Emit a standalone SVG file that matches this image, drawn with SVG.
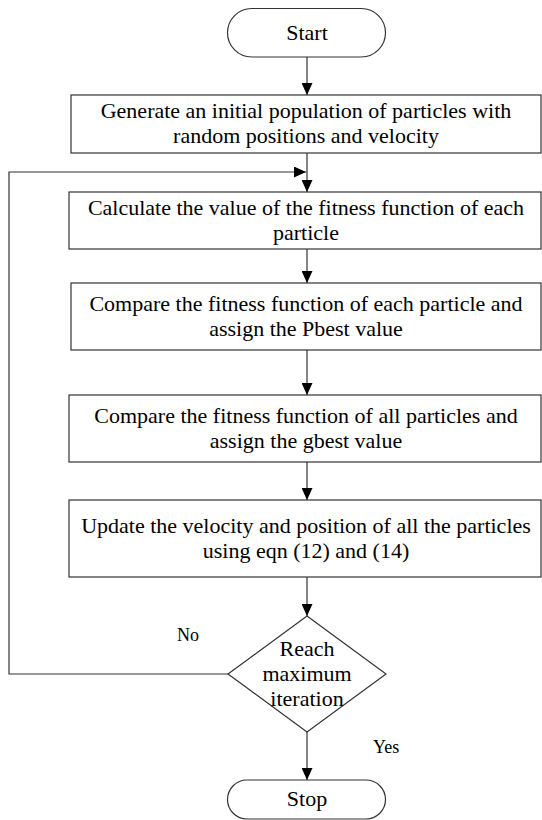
<svg xmlns="http://www.w3.org/2000/svg" width="542" height="820" viewBox="0 0 542 820">
<style>
.box{fill:#fff;stroke:#333;stroke-width:1.2}
.ln{fill:none;stroke:#333;stroke-width:1.2}
.t{font-size:22px;fill:#000;text-anchor:middle}
.lbl{font-size:18px;fill:#000}
</style>
<defs>
<marker id="ah" markerWidth="12" markerHeight="11" refX="12" refY="5.5" orient="auto" markerUnits="userSpaceOnUse">
<path d="M0,0 L12,5.5 L0,11 Z" fill="#000"/>
</marker>
</defs>
<rect width="542" height="820" fill="#fff"/>
<g font-family="Liberation Serif, Times New Roman, DejaVu Serif, serif">
<g id="connectors">
<line class="ln" x1="307" y1="57" x2="307" y2="95" marker-end="url(#ah)"/>
<line class="ln" x1="307" y1="153" x2="307" y2="192" marker-end="url(#ah)"/>
<polyline class="ln" points="228,674 9,674 9,172 306,172" marker-end="url(#ah)"/>
<line class="ln" x1="307" y1="249" x2="307" y2="283" marker-end="url(#ah)"/>
<line class="ln" x1="307" y1="350" x2="307" y2="395" marker-end="url(#ah)"/>
<line class="ln" x1="307" y1="462" x2="307" y2="500" marker-end="url(#ah)"/>
<line class="ln" x1="307" y1="577" x2="307" y2="616" marker-end="url(#ah)"/>
<line class="ln" x1="307" y1="732" x2="307" y2="780" marker-end="url(#ah)"/>
<text class="lbl" x="177" y="641">No</text>
<text class="lbl" x="373" y="753">Yes</text>
</g>
<g id="start">
<rect class="box" x="227.5" y="8.5" width="158" height="48.5" rx="24.25"/>
<text class="t" x="307" y="39.5">Start</text>
</g>
<g id="init">
<rect class="box" x="71" y="95" width="470" height="58"/>
<text class="t" x="306" y="118">Generate an initial population of particles with</text>
<text class="t" x="306" y="143">random positions and velocity</text>
</g>
<g id="fitness">
<rect class="box" x="69" y="192" width="472" height="57"/>
<text class="t" x="306" y="214.5">Calculate the value of the fitness function of each</text>
<text class="t" x="306" y="239.5">particle</text>
</g>
<g id="pbest">
<rect class="box" x="71" y="283" width="470" height="67"/>
<text class="t" x="306" y="310.5">Compare the fitness function of each particle and</text>
<text class="t" x="306" y="335.5">assign the Pbest value</text>
</g>
<g id="gbest">
<rect class="box" x="69" y="395" width="472" height="67"/>
<text class="t" x="306" y="422.5">Compare the fitness function of all particles and</text>
<text class="t" x="306" y="447.5">assign the gbest value</text>
</g>
<g id="update">
<rect class="box" x="69" y="500" width="472" height="77"/>
<text class="t" x="306" y="533">Update the velocity and position of all the particles</text>
<text class="t" x="306" y="558">using eqn (12) and (14)</text>
</g>
<g id="decision">
<polygon class="box" points="307,616 386,674 307,732 228,674"/>
<text class="t" x="307" y="656">Reach</text>
<text class="t" x="307" y="681">maximum</text>
<text class="t" x="307" y="706">iteration</text>
</g>
<g id="stop">
<rect class="box" x="227.5" y="780" width="158" height="39" rx="19.5"/>
<text class="t" x="307" y="806">Stop</text>
</g>
</g>
</svg>
